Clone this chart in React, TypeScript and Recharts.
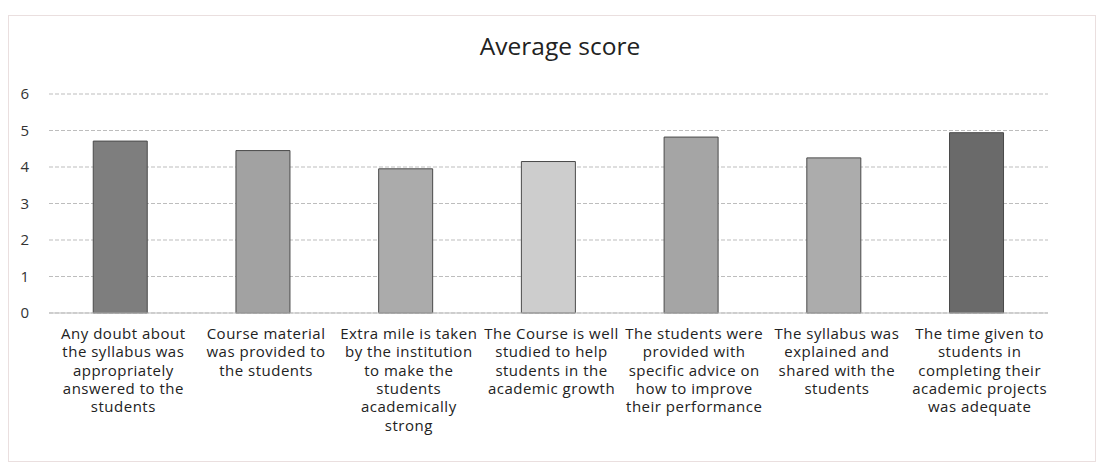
import React from "react";
import { BarChart, Bar, XAxis, YAxis, CartesianGrid, Cell } from "recharts";

// survey statements (line breaks as in the original chart)
const STATEMENTS = [
  "Any doubt about\nthe syllabus was\nappropriately\nanswered to the\nstudents",
  "Course material\nwas provided to\nthe students",
  "Extra mile is taken\nby the institution\nto make the\nstudents\nacademically\nstrong",
  "The Course is well\nstudied to help\nstudents in the\nacademic growth",
  "The students were\nprovided with\nspecific advice on\nhow to improve\ntheir performance",
  "The syllabus was\nexplained and\nshared with the\nstudents",
  "The time given to\nstudents in\ncompleting their\nacademic projects\nwas adequate",
];

const AVG_SCORES = [4.71, 4.45, 3.95, 4.15, 4.82, 4.25, 4.94];
const Y_TICKS = [0, 1, 2, 3, 4, 5, 6];
const BAR_GRAYS = ["#7e7e7e", "#a2a2a2", "#ababab", "#cdcdcd", "#a5a5a5", "#acacac", "#6a6a6a"];

const data = STATEMENTS.map((s, i) => ({ statement: s, score: AVG_SCORES[i] }));

const FONT = "'Open Sans', Lato, sans-serif";

function StatementTick(props: any) {
  const { x, y, payload } = props;
  const lines = String(payload.value).split("\n");
  return (
    <text x={x + 3} y={y} textAnchor="middle" fill="#222" fontSize={15} fontFamily={FONT} letterSpacing={0.5}>
      {lines.map((l, i) => (
        <tspan key={i} x={x + 3} dy={i === 0 ? 18 : 18.3}>
          {l}
        </tspan>
      ))}
    </text>
  );
}

export default function App() {
  return (
    <div style={{ position: "fixed", left: 0, top: 0, width: 1101, height: 473, background: "#fff" }}>
      <div
        style={{
          position: "absolute",
          left: 8,
          top: 15,
          width: 1086,
          height: 445,
          border: "1px solid #eadfdf",
        }}
      />
      <div
        style={{
          position: "absolute",
          top: 31,
          left: 0,
          width: 1120,
          textAlign: "center",
          fontFamily: FONT,
          fontSize: 24.5,
          lineHeight: "30px",
          color: "#222",
        }}
      >
        Average score
      </div>
      <div style={{ position: "absolute", left: 0, top: 0 }}>
        <BarChart
          width={1101}
          height={473}
          data={data}
          margin={{ top: 94, right: 53, bottom: 20, left: 8 }}
          barCategoryGap="31%"
        >
          <CartesianGrid vertical={false} stroke="#bdbdbd" strokeDasharray="4 2" />
          <XAxis
            dataKey="statement"
            interval={0}
            height={140}
            tick={<StatementTick />}
            tickLine={false}
            axisLine={{ stroke: "#bdbdbd" }}
          />
          <YAxis
            domain={[0, 6]}
            ticks={Y_TICKS}
            width={41}
            axisLine={false}
            tickLine={false}
            tickMargin={14}
            tick={{ fontSize: 15, fill: "#333", fontFamily: FONT }}
          />
          <Bar dataKey="score" isAnimationActive={false} stroke="#4a4a4a" strokeWidth={1}>
            {data.map((d, i) => (
              <Cell key={d.statement} fill={BAR_GRAYS[i]} />
            ))}
          </Bar>
        </BarChart>
      </div>
    </div>
  );
}
